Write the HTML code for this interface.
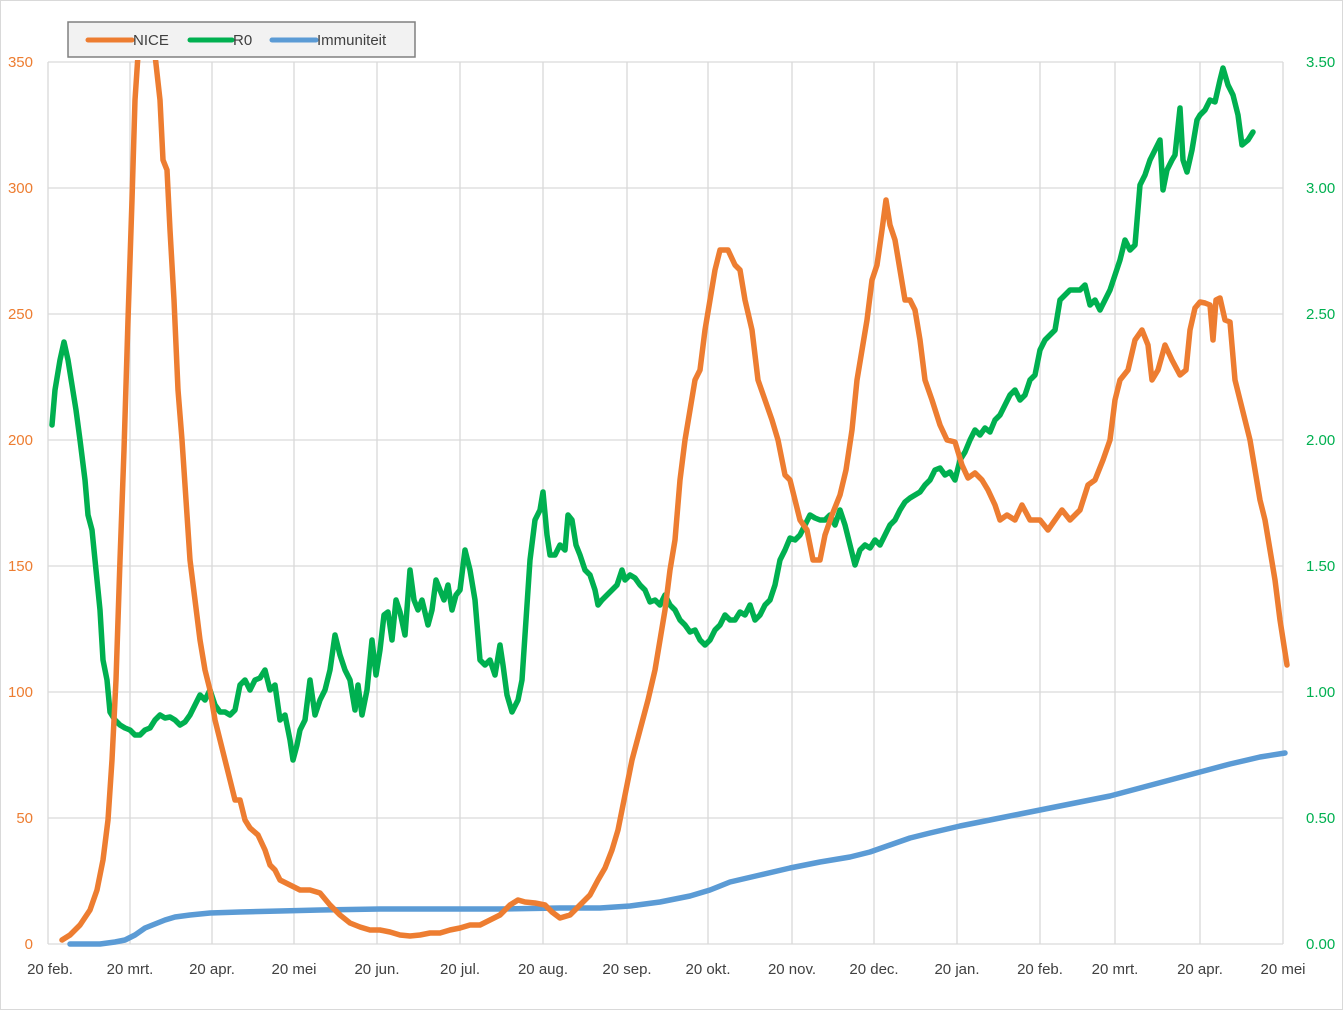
<!DOCTYPE html>
<html><head><meta charset="utf-8"><style>
html,body{margin:0;padding:0;background:#fff}
svg{display:block;font-family:"Liberation Sans",sans-serif}
</style></head><body>
<svg width="1343" height="1010" viewBox="0 0 1343 1010" xmlns="http://www.w3.org/2000/svg">
<rect x="0.5" y="0.5" width="1342" height="1009" fill="#fff" stroke="#d9d9d9"/>
<defs><clipPath id="c"><rect x="40" y="60" width="1260" height="900"/></clipPath></defs>
<g stroke="#d9d9d9" stroke-width="1.3">
<line x1="48" y1="62" x2="1283" y2="62"/><line x1="48" y1="188" x2="1283" y2="188"/><line x1="48" y1="314" x2="1283" y2="314"/><line x1="48" y1="440" x2="1283" y2="440"/><line x1="48" y1="566" x2="1283" y2="566"/><line x1="48" y1="692" x2="1283" y2="692"/><line x1="48" y1="818" x2="1283" y2="818"/><line x1="48" y1="944" x2="1283" y2="944"/>
<line x1="48" y1="62" x2="48" y2="944"/><line x1="130" y1="62" x2="130" y2="944"/><line x1="212" y1="62" x2="212" y2="944"/><line x1="294" y1="62" x2="294" y2="944"/><line x1="377" y1="62" x2="377" y2="944"/><line x1="460" y1="62" x2="460" y2="944"/><line x1="543" y1="62" x2="543" y2="944"/><line x1="627" y1="62" x2="627" y2="944"/><line x1="708" y1="62" x2="708" y2="944"/><line x1="792" y1="62" x2="792" y2="944"/><line x1="874" y1="62" x2="874" y2="944"/><line x1="957" y1="62" x2="957" y2="944"/><line x1="1040" y1="62" x2="1040" y2="944"/><line x1="1115" y1="62" x2="1115" y2="944"/><line x1="1200" y1="62" x2="1200" y2="944"/><line x1="1283" y1="62" x2="1283" y2="944"/>
</g>
<g font-size="15" fill="#ED7D31" text-anchor="end">
<text x="33" y="67">350</text><text x="33" y="193">300</text><text x="33" y="319">250</text><text x="33" y="445">200</text><text x="33" y="571">150</text><text x="33" y="697">100</text><text x="33" y="823">50</text><text x="33" y="949">0</text>
</g>
<g font-size="15" fill="#00B050" text-anchor="start">
<text x="1306" y="67">3.50</text><text x="1306" y="193">3.00</text><text x="1306" y="319">2.50</text><text x="1306" y="445">2.00</text><text x="1306" y="571">1.50</text><text x="1306" y="697">1.00</text><text x="1306" y="823">0.50</text><text x="1306" y="949">0.00</text>
</g>
<g font-size="15" fill="#404040" text-anchor="middle">
<text x="50" y="974">20 feb.</text><text x="130" y="974">20 mrt.</text><text x="212" y="974">20 apr.</text><text x="294" y="974">20 mei</text><text x="377" y="974">20 jun.</text><text x="460" y="974">20 jul.</text><text x="543" y="974">20 aug.</text><text x="627" y="974">20 sep.</text><text x="708" y="974">20 okt.</text><text x="792" y="974">20 nov.</text><text x="874" y="974">20 dec.</text><text x="957" y="974">20 jan.</text><text x="1040" y="974">20 feb.</text><text x="1115" y="974">20 mrt.</text><text x="1200" y="974">20 apr.</text><text x="1283" y="974">20 mei</text>
</g>
<g fill="none" stroke-width="5.5" stroke-linejoin="round" stroke-linecap="round" clip-path="url(#c)">
<polyline stroke="#5B9BD5" points="70,944 100,944 115,942 125,940 135,935 145,928 155,924 165,920 175,917 190,915 210,913 240,912 280,911 320,910 380,909 500,909 560,908 600,908 630,906 660,902 690,896 710,890 730,882 760,875 790,868 820,862 850,857 870,852 890,845 910,838 930,833 960,826 990,820 1020,814 1050,808 1080,802 1110,796 1140,788 1170,780 1200,772 1230,764 1260,757 1285,753"/>
<polyline stroke="#00B050" points="52,425 55,390 60,360 64,342 68,360 72,385 76,410 80,440 85,480 88,515 92,530 96,570 100,610 103,660 107,680 110,712 115,720 120,725 125,728 130,730 135,735 140,735 145,730 150,728 155,720 160,715 165,718 170,717 175,720 180,725 185,722 190,715 195,705 200,695 205,700 210,690 215,705 220,712 225,712 230,715 235,710 240,685 245,680 250,690 255,680 260,678 265,670 270,690 275,685 280,720 285,715 290,740 293,760 297,745 300,730 305,720 310,680 315,715 320,700 325,690 330,670 335,635 340,655 345,670 350,680 355,710 358,685 362,715 367,690 372,640 376,675 380,650 384,615 388,612 392,640 396,600 400,612 405,635 410,570 414,600 418,610 422,600 428,625 432,610 436,580 440,590 444,600 448,585 452,610 456,595 460,590 465,550 470,570 475,600 480,660 485,665 490,660 495,675 500,645 503,665 507,695 512,712 518,700 522,680 526,620 530,560 535,520 540,510 543,492 547,535 550,555 555,555 560,545 565,550 568,515 572,520 576,545 580,555 585,570 590,575 595,590 598,605 602,600 607,595 612,590 617,585 622,570 625,580 630,575 635,578 640,585 645,590 650,602 655,600 660,605 665,595 670,605 675,610 680,620 685,625 690,632 695,630 700,640 705,645 710,640 715,630 720,625 725,615 730,620 735,620 740,612 745,615 750,605 755,620 760,615 765,605 770,600 775,585 780,560 785,550 790,538 795,540 800,535 805,525 810,515 815,518 820,520 825,520 830,515 835,525 840,510 845,525 850,545 855,565 860,550 865,545 870,548 875,540 880,545 885,535 890,525 895,520 900,510 905,502 910,498 915,495 920,492 925,485 930,480 935,470 940,468 945,475 950,472 955,480 960,460 965,452 970,440 975,430 980,435 985,428 990,432 995,420 1000,415 1005,405 1010,395 1015,390 1020,400 1025,395 1030,380 1035,375 1040,350 1045,340 1050,335 1055,330 1060,300 1065,295 1070,290 1075,290 1080,290 1085,285 1090,305 1095,300 1100,310 1105,300 1110,290 1115,275 1120,260 1125,240 1130,250 1135,245 1140,185 1145,175 1150,160 1155,150 1160,140 1163,190 1167,170 1172,160 1175,155 1180,108 1183,160 1187,172 1192,150 1197,120 1200,115 1205,110 1210,100 1215,102 1220,80 1223,68 1228,85 1233,95 1238,115 1242,145 1248,140 1253,132"/>
<polyline stroke="#ED7D31" points="62,940 70,935 80,925 90,910 97,890 103,860 108,820 112,760 116,680 120,560 124,450 128,320 132,200 135,100 138,55 155,55 160,100 163,160 167,170 170,230 174,300 178,390 182,440 186,500 190,560 195,600 200,640 205,670 210,690 215,720 220,740 225,760 230,780 235,800 240,800 245,820 250,828 258,835 265,850 270,865 275,870 280,880 290,885 300,890 310,890 320,893 330,905 340,915 350,923 360,927 370,930 380,930 390,932 400,935 410,936 420,935 430,933 440,933 450,930 460,928 470,925 480,925 490,920 500,915 510,905 518,900 525,902 535,903 545,905 552,912 560,918 570,915 580,905 590,895 598,880 605,868 612,850 618,830 625,795 632,760 640,730 648,700 655,670 660,640 665,610 670,570 675,540 680,480 685,440 690,410 695,380 700,370 705,330 710,300 715,270 720,250 728,250 735,265 740,270 745,300 752,330 758,380 765,400 772,420 778,440 785,475 790,480 795,500 800,520 807,530 813,560 820,560 825,535 832,515 840,495 846,470 852,430 857,380 862,350 867,320 872,280 877,265 882,230 886,200 890,225 895,240 900,270 905,300 910,300 915,310 920,340 925,380 932,400 940,425 947,440 955,442 962,465 968,478 975,473 982,480 988,490 995,505 1000,520 1007,515 1015,520 1022,505 1030,520 1040,520 1048,530 1055,520 1062,510 1070,520 1080,510 1088,485 1095,480 1103,460 1110,440 1115,400 1120,380 1128,370 1135,340 1142,330 1148,345 1152,380 1158,370 1165,345 1172,360 1180,375 1186,370 1190,330 1195,308 1200,302 1205,303 1210,305 1213,340 1216,300 1220,298 1225,320 1230,322 1235,380 1240,400 1245,420 1250,440 1255,470 1260,500 1265,520 1270,550 1275,580 1280,620 1287,665"/>
</g>
<rect x="68" y="22" width="347" height="35" fill="#f2f2f2" stroke="#808080" stroke-width="1.5"/>
<g stroke-width="5" stroke-linecap="round">
<line x1="88" y1="40" x2="132" y2="40" stroke="#ED7D31"/>
<line x1="190" y1="40" x2="232" y2="40" stroke="#00B050"/>
<line x1="272" y1="40" x2="316" y2="40" stroke="#5B9BD5"/>
</g>
<g font-size="15" fill="#404040">
<text x="133" y="45">NICE</text><text x="233" y="45">R0</text><text x="317" y="45">Immuniteit</text>
</g>
</svg>
</body></html>
